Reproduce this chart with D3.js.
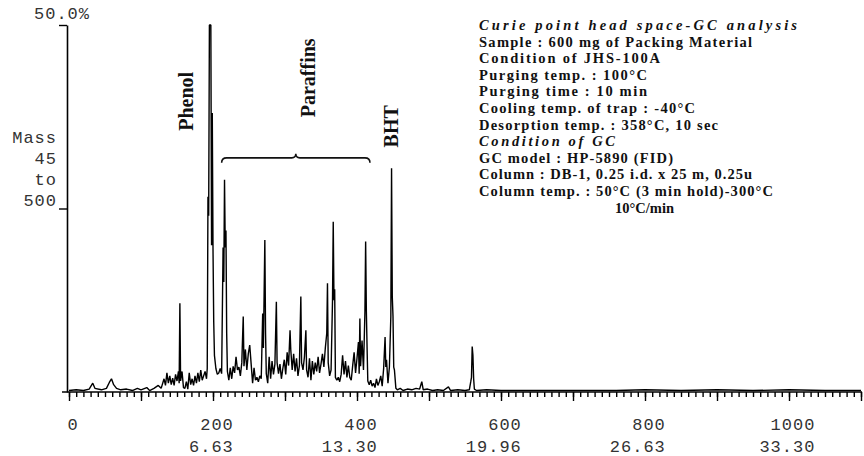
<!DOCTYPE html>
<html>
<head>
<meta charset="utf-8">
<script src="https://cdn.jsdelivr.net/npm/d3@7"></script>
<style>
  body { margin: 0; background: #fff; }
  svg { display: block; }
</style>
</head>
<body>
<div id="chart"></div>
<script>
// Chromatogram trace: [scan number, intensity %]
const trace = [
  [0, 0.2], [10, 0.3], [20, 0.2], [28, 0.4], [33, 1.2], [36, 0.5], [45, 0.3], [52, 0.5],
  [56, 1.3], [59, 1.8], [62, 1.0], [66, 0.5], [72, 0.3], [80, 0.4], [88, 0.2], [95, 0.5],
  [100, 0.3], [108, 0.6], [112, 0.2], [118, 0.5], [124, 0.9], [128, 0.5], [132, 1.8],
  [134, 0.9], [136, 2.6], [138, 1.2], [140, 2.2], [142, 1.0], [144, 1.9], [146, 0.9],
  [148, 2.4], [150, 1.5], [152, 2.8], [153, 1.2], [154, 12.1], [155, 1.5], [157, 2.8],
  [159, 0.6], [161, 0.5], [163, 1.4], [165, 0.4], [167, 2.6], [169, 1.0], [171, 1.8],
  [173, 0.9], [175, 2.2], [177, 1.2], [179, 2.6], [181, 1.4], [183, 3.0], [185, 1.6],
  [187, 2.2], [189, 2.8], [191, 1.8], [192, 3.2],
  [193, 26.6], [194, 24], [195, 50], [196, 50], [197, 50], [198, 20], [199, 38], [200, 19.6],
  [201, 9.6], [202, 5], [204, 3.2], [206, 2.4], [208, 2.6], [210, 3.2], [212, 2.5],
  [214, 19.7], [215, 15], [216, 28.9], [217, 19.7], [218, 22], [219, 8], [220, 2.8],
  [222, 1.6], [224, 3.3], [226, 1.8], [228, 3.5], [230, 2.6], [232, 4.8], [234, 3.0],
  [236, 3.4], [238, 2.2], [240, 4.0], [242, 10.3], [243, 3.5], [245, 5.8], [247, 3.0],
  [249, 5.2], [251, 6.4], [253, 3.8], [255, 1.2], [257, 3.3], [259, 1.6], [261, 2.0],
  [263, 1.4], [265, 2.2], [267, 1.8], [269, 10.7], [270, 6], [272, 20.7], [273, 8],
  [274, 2.5], [276, 1.2], [278, 4.8], [280, 1.8], [282, 4.2], [284, 2.4], [286, 3.8],
  [288, 12.3], [289, 4], [291, 2.5], [293, 3.8], [295, 1.8], [297, 3.2], [299, 4.4],
  [301, 2.4], [303, 5.4], [305, 3.6], [307, 8.4], [308, 5.8], [310, 3.0], [312, 5.2],
  [314, 2.8], [316, 4.6], [318, 2.2], [320, 3.6], [322, 13], [323, 4], [325, 3], [327, 4.8],
  [329, 8.4], [330, 3], [332, 2], [334, 4.6], [336, 1.6], [338, 4.2], [340, 2.4], [342, 4.0],
  [344, 2.8], [346, 4.8], [348, 2.6], [350, 3.8], [352, 5.2], [354, 3.4], [356, 6.0],
  [358, 8], [359, 14.8], [360, 4], [362, 2.2], [364, 3.0], [366, 12.5], [367, 23.2],
  [368, 12.5], [369, 14], [370, 2.0], [372, 1.6], [374, 2.0], [376, 1.4], [378, 2.4],
  [380, 5.0], [382, 2.4], [384, 4.2], [386, 2.0], [388, 3.6], [390, 2.0], [392, 1.6],
  [394, 3.6], [396, 5.4], [398, 2.6], [400, 4.6], [402, 6.8], [403, 2.5], [404, 10],
  [405, 3.5], [407, 7], [409, 3], [411, 10.9], [412, 20.5], [413, 11], [414, 6], [415, 1.5],
  [417, 1.0], [419, 1.6], [421, 0.8], [423, 1.2], [425, 0.6], [427, 1.8], [429, 0.9],
  [431, 1.4], [433, 2.2], [435, 0.8], [437, 3.2], [439, 7.5], [440, 3.4], [441, 4.4],
  [443, 1.2], [445, 3.4], [447, 10.3], [448, 30.5], [449, 13], [450, 10.3], [451, 3.4],
  [452, 3.0], [454, 0.5], [456, 0.3], [460, 0.5], [464, 0.2], [470, 0.4], [476, 0.3],
  [482, 0.5], [487, 0.4], [490, 1.4], [492, 0.3], [498, 0.4], [505, 0.2], [512, 0.3],
  [520, 0.2], [527, 0.7], [530, 0.2], [540, 0.3], [550, 0.2], [556, 0.3], [558, 1.4],
  [559, 2.0], [560, 6.2], [561, 5], [562, 1.8], [563, 0.4], [566, 0.2], [580, 0.3],
  [600, 0.2], [650, 0.2], [700, 0.2], [760, 0.2], [800, 0.3], [850, 0.2], [900, 0.3],
  [950, 0.2], [1000, 0.3], [1050, 0.2], [1100, 0.2]
];

// Axis labels: scan number and retention time (min)
const scanTicks = [0, 200, 400, 600, 800, 1000];
const timeLabels = ["", "6.63", "13.30", "19.96", "26.63", "33.30"];
const yTitle = ["Mass", "45", "to", "500"];

// Peak names: [text, scan, intensity % at text centre]
const peakNames = [
  ["Phenol", 172, 39.6],
  ["Paraffins", 341.7, 42.8],
  ["BHT", 457, 36.2]
];
const braceRange = [212, 418, 31.9];

const infoLines = [
  ["Curie  point  head  space-GC  analysis", true, 318],
  ["Sample : 600 mg of Packing Material", false, 273],
  ["Condition of JHS-100A", false, 181],
  ["Purging temp. : 100°C", false, 168],
  ["Purging time : 10 min", false, 168],
  ["Cooling temp. of trap : -40°C", false, 216],
  ["Desorption temp. : 358°C, 10 sec", false, 239],
  ["Condition  of  GC", true, 136],
  ["GC model : HP-5890 (FID)", false, 194],
  ["Column : DB-1, 0.25 i.d. x 25 m, 0.25u", false, 273],
  ["Column temp. : 50°C (3 min hold)-300°C", false, 294],
  ["10°C/min", false, null, 136]
];

const width = 864;
const height = 456;

const svg = d3.select("#chart")
  .append("svg")
  .attr("width", width)
  .attr("height", height);

const x = d3.scaleLinear().domain([0, 1100]).range([69, 861]);
const y = d3.scaleLinear().domain([0, 50]).range([392, 25]);

// x axis: minor ticks every 10 scans, longer ones every 100
const xMinor = svg.append("g")
  .attr("transform", "translate(0,392)")
  .call(d3.axisBottom(x).tickValues(d3.range(0, 1101, 10)).tickSize(5).tickSizeOuter(0).tickFormat(""));
xMinor.select(".domain").attr("d", "M62,0H862");

svg.append("g")
  .attr("transform", "translate(0,392)")
  .call(d3.axisBottom(x).tickValues(d3.range(0, 1101, 100)).tickSize(9).tickSizeOuter(0).tickFormat(""))
  .call(g => g.select(".domain").remove());

// y axis
svg.append("g")
  .attr("transform", "translate(67,0)")
  .call(d3.axisLeft(y).tickValues([25, 50]).tickSize(8).tickSizeOuter(0).tickFormat(""));

svg.selectAll(".tick line").attr("stroke", "#000").attr("stroke-width", 1.4);
svg.selectAll(".domain").attr("stroke", "#000").attr("stroke-width", 1.6);

const mono = "'Liberation Mono', 'DejaVu Sans Mono', monospace";

// scan / time labels
scanTicks.forEach((v, i) => {
  const t = svg.append("text")
    .attr("x", x(v) + 4)
    .attr("y", 430)
    .attr("text-anchor", "middle")
    .attr("font-family", mono)
    .attr("font-size", 17)
    .attr("letter-spacing", 1)
    .attr("fill", "#333")
    .text(v);
  const right = x(v) + 4 + t.node().getComputedTextLength() / 2;
  svg.append("text")
    .attr("x", right)
    .attr("y", 452)
    .attr("text-anchor", "end")
    .attr("font-family", mono)
    .attr("font-size", 17)
    .attr("letter-spacing", 1)
    .attr("fill", "#333")
    .text(timeLabels[i]);
});

svg.append("text")
  .attr("x", 62)
  .attr("y", 19)
  .attr("text-anchor", "middle")
  .attr("font-family", mono)
  .attr("font-size", 17)
  .attr("letter-spacing", 1)
  .attr("fill", "#333")
  .text("50.0%");

yTitle.forEach((s, i) => {
  svg.append("text")
    .attr("x", 57)
    .attr("y", 143 + i * 21)
    .attr("text-anchor", "end")
    .attr("font-family", mono)
    .attr("font-size", 17)
    .attr("letter-spacing", 1)
    .attr("fill", "#333")
    .text(s);
});

// the trace
const line = d3.line()
  .x(d => x(d[0]))
  .y(d => y(d[1]));

svg.append("path")
  .datum(trace)
  .attr("fill", "none")
  .attr("stroke", "#000")
  .attr("stroke-width", 1.4)
  .attr("stroke-linejoin", "bevel")
  .attr("d", line);

// peak names
const serif = "'Liberation Serif', 'DejaVu Serif', serif";
peakNames.forEach(([name, scan, pct]) => {
  svg.append("text")
    .attr("transform", `translate(${x(scan)},${y(pct)}) rotate(-90)`)
    .attr("text-anchor", "middle")
    .attr("font-family", serif)
    .attr("font-weight", "bold")
    .attr("font-size", 20)
    .attr("fill", "#111")
    .text(name);
});

// brace over the paraffins
const bx0 = x(braceRange[0]);
const bx1 = x(braceRange[1]);
const by = y(braceRange[2]);
const bm = (bx0 + bx1) / 2;
svg.append("path")
  .attr("d", `M${bx0},${by + 5} Q${bx0},${by} ${bx0 + 5},${by} L${bm - 4},${by} Q${bm},${by} ${bm},${by - 4} Q${bm},${by} ${bm + 4},${by} L${bx1 - 5},${by} Q${bx1},${by} ${bx1},${by + 5}`)
  .attr("fill", "none")
  .attr("stroke", "#111")
  .attr("stroke-width", 1.6);

// analysis conditions
infoLines.forEach(([s, italic, w, dx], i) => {
  const t = svg.append("text")
    .attr("x", 479 + (dx || 0))
    .attr("y", 30 + i * 16.6)
    .attr("font-family", serif)
    .attr("font-weight", "bold")
    .attr("font-style", italic ? "italic" : "normal")
    .attr("font-size", 14.5)
    .attr("fill", "#111")
    .text(s);
  if (w) t.attr("textLength", w).attr("lengthAdjust", "spacing");
});
</script>
</body>
</html>
